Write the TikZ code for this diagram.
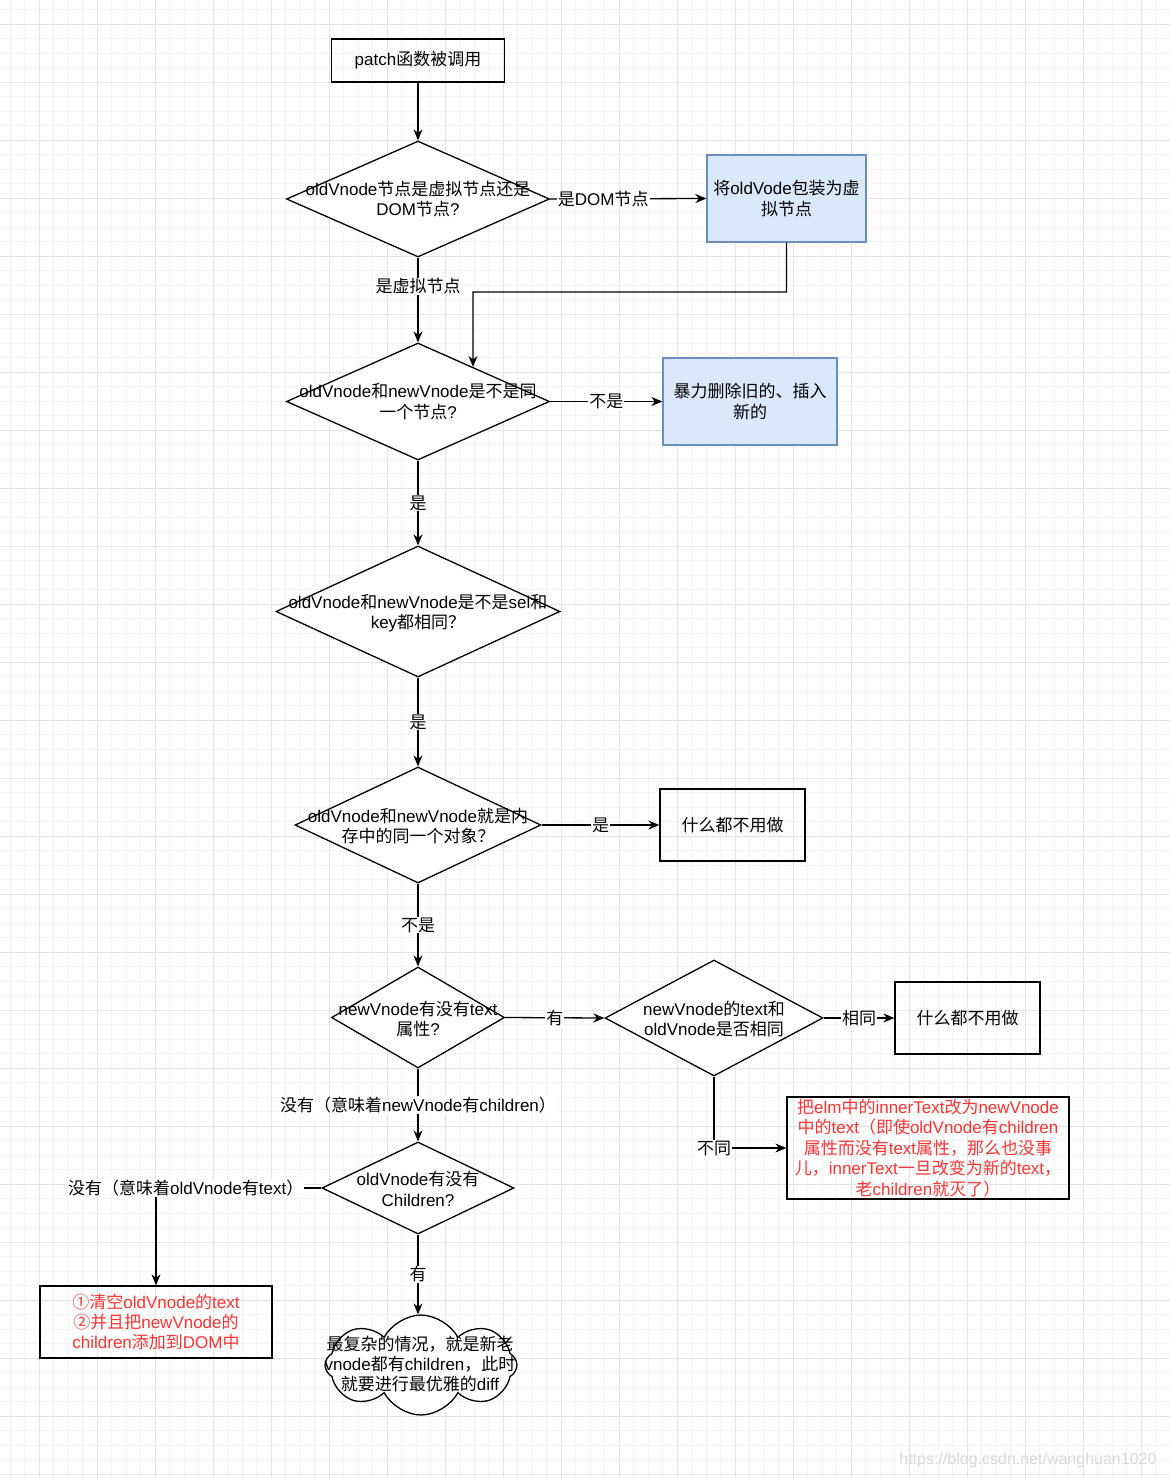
\documentclass[tikz,border=0pt]{standalone}
\usepackage{fontspec}
\setmainfont{Liberation Sans}
\newfontfamily\latf{Liberation Sans}
\newfontfamily\cjkf{Noto Sans CJK SC}
\usetikzlibrary{shapes.geometric,shapes.symbols,arrows.meta}
\XeTeXinterchartokenstate=1
\newXeTeXintercharclass\CJKcls
\newcount\cjkcc
\def\cjkrange#1#2{\cjkcc=#1\relax\loop\XeTeXcharclass\cjkcc=\CJKcls\relax\advance\cjkcc by 1\relax\ifnum\cjkcc<#2\relax\repeat}
\cjkrange{"4E00}{"A000}
\cjkrange{"3000}{"3040}
\cjkrange{"FF00}{"FFF0}
\cjkrange{"2460}{"2500}
\XeTeXinterchartoks 0 \CJKcls = {\cjkf}
\XeTeXinterchartoks 4095 \CJKcls = {\cjkf}
\XeTeXinterchartoks \CJKcls 0 = {\latf}
\XeTeXinterchartoks 4095 0 = {\latf}
\definecolor{blueF}{HTML}{DAE8FC}
\definecolor{blueD}{HTML}{6C8EBF}
\definecolor{redT}{HTML}{FF3333}
\definecolor{gMinor}{HTML}{F5F5F5}
\definecolor{gMajor}{HTML}{E4E4E4}
\tikzset{
  box/.style={draw, line width=1.3pt, inner sep=0pt, align=center},
  blu/.style={box, fill=blueF, draw=blueD},
  dia/.style={diamond, draw, line width=1.3pt, inner sep=0pt, fill=white},
  txt/.style={align=center, inner sep=0pt},
  elab/.style={fill=white, inner sep=1pt},
  arr/.style={-{Stealth[length=11pt,width=9pt]}, line width=1.3pt},
  gminor/.style={draw=gMinor, line width=0.8pt},
  gmajor/.style={draw=gMajor, line width=1pt}
}
\begin{document}
\begin{tikzpicture}[x=1pt, y=-1pt, font=\fontsize{17}{20.4}\selectfont]
\useasboundingbox (0,0) rectangle (1170,1478);
\fill[white] (0,0) rectangle (1170,1478);
% grid
\foreach \i in {0,...,80} { \draw[gminor] ({10.3+14.5*\i},0) -- ({10.3+14.5*\i},1478); }
\foreach \i in {0,...,101} { \draw[gminor] (0,{9.8+14.5*\i}) -- (1170,{9.8+14.5*\i}); }
\foreach \i in {0,...,20} { \draw[gmajor] ({39.3+58*\i},0) -- ({39.3+58*\i},1478); }
\foreach \i in {0,...,25} { \draw[gmajor] (0,{24.3+58*\i}) -- (1170,{24.3+58*\i}); }

% nodes
\node[box, minimum width=173pt, minimum height=43pt] (b1) at (418,60.5) {patch函数被调用};

\node[dia, minimum width=263pt, minimum height=116pt] (d1) at (418,199) {};
\node[txt] (d1t) at (d1) {oldVnode节点是虚拟节点还是\\DOM节点?};

\node[blu, minimum width=159pt, minimum height=87pt] (b2) at (786.5,198.5) {将oldVode包装为虚\\拟节点};

\node[dia, minimum width=263pt, minimum height=117pt] (d2) at (418,401.5) {};
\node[txt] (d2t) at (d2) {oldVnode和newVnode是不是同\\一个节点?};

\node[blu, minimum width=174pt, minimum height=87pt] (b3) at (750,401.5) {暴力删除旧的、插入\\新的};

\node[dia, minimum width=284pt, minimum height=131pt] (d3) at (418,611.5) {};
\node[txt] (d3t) at (418,613) {oldVnode和newVnode是不是sel和\\key都相同？};

\node[dia, minimum width=246pt, minimum height=116pt] (d4) at (418,825) {};
\node[txt] (d4t) at (418,826) {oldVnode和newVnode就是内\\存中的同一个对象？};

\node[box, minimum width=145pt, minimum height=72pt] (b4) at (732.5,825) {什么都不用做};

\node[dia, minimum width=173pt, minimum height=101pt] (d5) at (418,1017.5) {};
\node[txt] (d5t) at (418,1019) {newVnode有没有text\\属性?};

\node[dia, minimum width=218pt, minimum height=116pt] (d6) at (714,1018) {};
\node[txt] (d6t) at (714,1019) {newVnode的text和\\oldVnode是否相同};

\node[box, minimum width=145pt, minimum height=72pt] (b5) at (967.5,1018) {什么都不用做};

\node[box, text=redT, minimum width=282pt, minimum height=102pt] (b6) at (928,1148) {把elm中的innerText改为newVnode\\中的text（即使oldVnode有children\\属性而没有text属性，那么也没事\\儿，innerText一旦改变为新的text，\\老children就灭了）};

\node[dia, minimum width=192pt, minimum height=92pt] (d7) at (418,1188) {};
\node[txt] (d7t) at (418,1189) {oldVnode有没有\\Children?};

\node[box, text=redT, minimum width=232pt, minimum height=72pt] (b7) at (156,1322) {①清空oldVnode的text\\②并且把newVnode的\\children添加到DOM中};

\node[cloud, draw, line width=1.3pt, fill=white, cloud puffs=8, cloud puff arc=125, aspect=1.9, minimum width=192pt, minimum height=100pt, inner sep=0pt] (cl) at (421,1365) {};
\node[txt] (clt) at (420,1364) {最复杂的情况，就是新老\\vnode都有children，此时\\就要进行最优雅的diff};

% connectors
\draw[arr] (b1.south) -- (d1.north);
\draw[arr] (d1.east) -- node[elab, pos=0.34] {是DOM节点} (b2.west);
\draw[arr] (b2.south) |- (473,292) -- (intersection of 473,292--473,500 and d2.north--d2.east);
\draw[arr] (d1.south) -- node[elab, pos=0.34] {是虚拟节点} (d2.north);
\draw[arr] (d2.east) -- node[elab] {不是} (b3.west);
\draw[arr] (d2.south) -- node[elab] {是} (d3.north);
\draw[arr] (d3.south) -- node[elab] {是} (d4.north);
\draw[arr] (d4.east) -- node[elab] {是} (b4.west);
\draw[arr] (d4.south) -- node[elab] {不是} (d5.north);
\draw[arr] (d5.east) -- node[elab] {有} (d6.west);
\draw[arr] (d6.east) -- node[elab] {相同} (b5.west);
\draw[arr] (d6.south) |- node[elab] {不同} (b6.west);
\draw[arr] (d5.south) -- node[elab] {没有（意味着newVnode有children）} (d7.north);
\draw[arr] (d7.west) -| node[elab, pos=0.41] {没有（意味着oldVnode有text）} (b7.north);
\draw[arr] (d7.south) -- node[elab] {有} (d7.south |- cl.north);

\node[anchor=east, text=black!15, font=\fontsize{16}{18}\selectfont] (wm) at (1160,1460) {https://blog.csdn.net/wanghuan1020};
\end{tikzpicture}
\end{document}
